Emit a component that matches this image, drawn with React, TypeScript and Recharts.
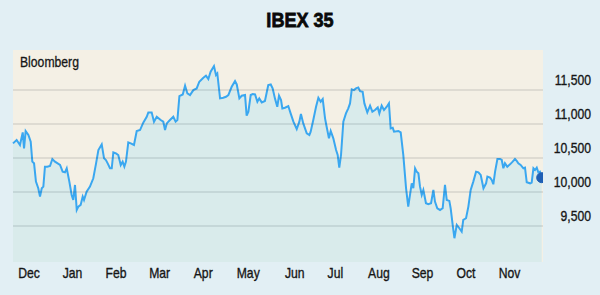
import React from "react";
import { ComposedChart, Area, XAxis, YAxis, CartesianGrid, ReferenceDot, ReferenceLine } from "recharts";

// IBEX 35 close, Dec 2014 - Nov 2015 (day = days since start of chart window)
const ibexSeries: [number, number][] = [
  [0, 10716], [2.5, 10765], [4.8, 10692], [6.7, 10878], [7.6, 10643], [8.7, 10897],
  [10.6, 10839], [12.2, 10741], [13.3, 10447], [14.5, 10422], [15.8, 10153], [17.4, 10055],
  [18.6, 9932], [19.8, 10055], [20.9, 10079], [22.0, 10373], [23.6, 10373], [25.5, 10383],
  [27.1, 10486], [28.9, 10447], [32.4, 10398], [34.2, 10300], [35.8, 10290], [37.0, 10349],
  [38.8, 10153], [40.4, 9957], [41.5, 9883], [42.7, 10104], [43.9, 9736], [45.0, 9785],
  [46.6, 9810], [48.0, 9932], [48.9, 9883], [50.7, 10006], [53.0, 10079], [55.3, 10202],
  [57.2, 10422], [58.8, 10618], [61.1, 10701], [62.7, 10496], [64.0, 10471], [65.2, 10422],
  [66.8, 10349], [68.0, 10349], [69.1, 10584], [70.9, 10569], [72.5, 10545], [74.2, 10398],
  [75.5, 10447], [76.7, 10373], [77.8, 10447], [79.4, 10731], [81.1, 10716], [83.3, 10692],
  [85.2, 10897], [87.5, 10912],
  [89.7, 11020], [92.1, 11108], [93.2, 11172], [95.5, 11172], [97.1, 11035], [99.0, 11108],
  [101.7, 11059], [103.5, 11035], [104.7, 10912], [105.9, 11010], [108.1, 11059], [110.4, 11108],
  [112.0, 11035], [113.2, 11059], [114.6, 11412], [116.9, 11436], [118.5, 11564], [120.1, 11451],
  [121.9, 11427], [124.2, 11500], [126.5, 11524], [128.3, 11623], [131.1, 11681], [132.9, 11711],
  [134.5, 11662], [136.1, 11770], [138.4, 11853], [139.8, 11721], [140.7, 11745], [142.6, 11378],
  [144.8, 11388], [146.7, 11402], [148.3, 11427], [150.6, 11549], [152.9, 11632], [154.1, 11583],
  [155.9, 11378], [157.5, 11417], [159.8, 11427], [160.9, 11123], [162.1, 11182], [163.7, 11427],
  [165.1, 11441], [166.7, 11436], [168.3, 11329], [169.6, 11378], [171.3, 11319], [173.5, 11339],
  [175.8, 11574], [177.5, 11583],
  [178.8, 11525], [180.4, 11378], [182.0, 11255], [183.2, 11417], [184.6, 11353], [185.5, 11230],
  [187.3, 11240], [189.6, 11265], [191.2, 11157], [193.1, 11035], [195.4, 10927], [197.2, 11035],
  [198.3, 11147], [199.9, 11010], [202.3, 10863], [204.1, 10839], [205.0, 10888], [206.8, 11059],
  [208.7, 11255], [210.3, 11387], [211.9, 11329], [213.3, 11368], [214.9, 11084], [216.0, 10961],
  [217.6, 10790], [218.8, 10898], [220.6, 10790], [222.5, 10618], [223.6, 10545], [224.7, 10358],
  [225.9, 10545], [227.5, 11035], [229.3, 11157], [230.9, 11231], [232.1, 11304], [233.3, 11510],
  [234.8, 11500], [236.2, 11524], [237.8, 11539], [239.0, 11485], [240.8, 11475], [242.0, 11304],
  [244.0, 11172], [245.9, 11270], [247.5, 11182], [249.3, 11206], [251.2, 11245], [252.3, 11157],
  [253.9, 11270], [255.5, 11206], [257.4, 11255], [258.9, 11304], [260.1, 10936], [261.5, 10946],
  [262.4, 10888], [265.4, 10898], [267.0, 10878],
  [268.8, 10544], [270.7, 10055], [272.2, 9785], [273.4, 9957], [274.6, 10128], [275.7, 10055],
  [276.9, 10348], [278.0, 10300], [279.2, 10275], [280.3, 10079], [281.5, 9957], [282.6, 10030],
  [283.3, 9957], [284.4, 9834], [286.0, 9820], [287.9, 9834], [289.5, 10030], [290.6, 9859],
  [292.2, 9761], [294.1, 9736], [295.9, 9761], [297.5, 10104], [298.7, 9883], [300.5, 9869],
  [301.4, 9761], [302.8, 9516], [304.0, 9320], [305.6, 9516], [307.4, 9467], [309.0, 9418],
  [310.1, 9590], [312.0, 9614], [313.6, 9785], [315.2, 10030], [317.0, 10153], [318.9, 10300],
  [320.5, 10290], [322.1, 10251], [324.0, 10055], [325.8, 10128], [326.7, 10226], [328.5, 10211],
  [329.7, 10177], [330.8, 10114], [332.0, 10300], [333.6, 10486], [335.4, 10486], [336.6, 10471],
  [337.7, 10349], [338.8, 10422], [340.4, 10373], [342.3, 10407], [344.1, 10447], [345.7, 10486],
  [346.9, 10457], [348.0, 10422], [349.6, 10398], [351.5, 10349], [352.6, 10358], [353.8, 10143],
  [356.1, 10128], [357.2, 10138], [358.4, 10349], [359.5, 10324], [360.7, 10358], [361.8, 10290],
  [362.9, 10300], [364.1, 10211],
];

const monthLabels = ["Dec", "Jan", "Feb", "Mar", "Apr", "May", "Jun", "Jul", "Aug", "Sep", "Oct", "Nov"];
const monthTicks = [11, 41, 71, 101, 131, 162, 194, 222, 252, 282, 312, 342];
const yTicks = [9500, 10000, 10500, 11000, 11500];

const data = ibexSeries.map(([day, close]) => ({ day, close }));
const last = data[data.length - 1];

// no narrow font installed: squeeze Liberation Sans horizontally instead
const FONT = "'Liberation Sans', Arial, sans-serif";
const SQUEEZE = 0.84;
const INK = "#161616";

const YTick = (props: any) => {
  const { y, payload } = props;
  return (
    <text
      transform={`translate(591, ${y - 5}) scale(${SQUEEZE}, 1)`}
      textAnchor="end"
      fontFamily={FONT}
      fontSize={14.5}
      fill={INK}
      stroke={INK}
      strokeWidth={0.35}
    >
      {payload.value.toLocaleString("en-US")}
    </text>
  );
};

const MonthTick = (props: any) => {
  const { x, y, payload } = props;
  return (
    <text
      transform={`translate(${x}, ${y + 10}) scale(${SQUEEZE}, 1)`}
      textAnchor="middle"
      fontFamily={FONT}
      fontSize={14.5}
      fill={INK}
      stroke={INK}
      strokeWidth={0.35}
    >
      {monthLabels[monthTicks.indexOf(payload.value)]}
    </text>
  );
};

export default function App() {
  return (
    <div
      style={{
        position: "absolute",
        left: 0,
        top: 0,
        width: 600,
        height: 295,
        background: "#e2eff4",
        overflow: "hidden",
      }}
    >
      <div
        style={{
          position: "absolute",
          top: 9,
          left: 0,
          width: 600,
          textAlign: "center",
          fontFamily: FONT,
          fontWeight: 900,
          fontSize: 21,
          lineHeight: "21px",
          color: "#0a0a0a",
          WebkitTextStroke: "0.8px #0a0a0a",
          transform: "scaleX(0.86)",
          transformOrigin: "300px 0",
        }}
      >
        IBEX 35
      </div>
      <ComposedChart
        width={600}
        height={295}
        data={data}
        margin={{ top: 50, right: 0, bottom: 0, left: 13 }}
      >
        <CartesianGrid vertical={false} horizontal={false} fill="#f4f0e5" />
        <XAxis
          dataKey="day"
          type="number"
          domain={[0, 365]}
          ticks={monthTicks}
          axisLine={false}
          tickLine={false}
          tickSize={0}
          tickMargin={6}
          height={33}
          interval={0}
          tick={<MonthTick />}
        />
        <YAxis
          orientation="right"
          domain={[8970, 12090]}
          ticks={yTicks}
          allowDataOverflow
          axisLine={false}
          tickLine={false}
          width={57}
          tick={<YTick />}
          interval={0}
        />
        <Area
          type="linear"
          dataKey="close"
          stroke="#3aa7f0"
          strokeWidth={2}
          fill="#cee9ed"
          fillOpacity={0.72}
          dot={false}
          activeDot={false}
          isAnimationActive={false}
        />
        {yTicks.map((t) => (
          <ReferenceLine key={t} y={t} stroke="#1e2a30" strokeOpacity={0.1} strokeWidth={2} />
        ))}
        <ReferenceDot
          x={last.day}
          y={last.close}
          r={5}
          fill="#1f5fb5"
          stroke="#1f5fb5"
          ifOverflow="hidden"
        />
      </ComposedChart>
      <div
        style={{
          position: "absolute",
          left: 20,
          top: 54,
          fontFamily: FONT,
          fontSize: 14.5,
          lineHeight: "16px",
          color: INK,
          WebkitTextStroke: `0.3px ${INK}`,
          transform: `scaleX(${SQUEEZE})`,
          transformOrigin: "0 0",
        }}
      >
        Bloomberg
      </div>
    </div>
  );
}
